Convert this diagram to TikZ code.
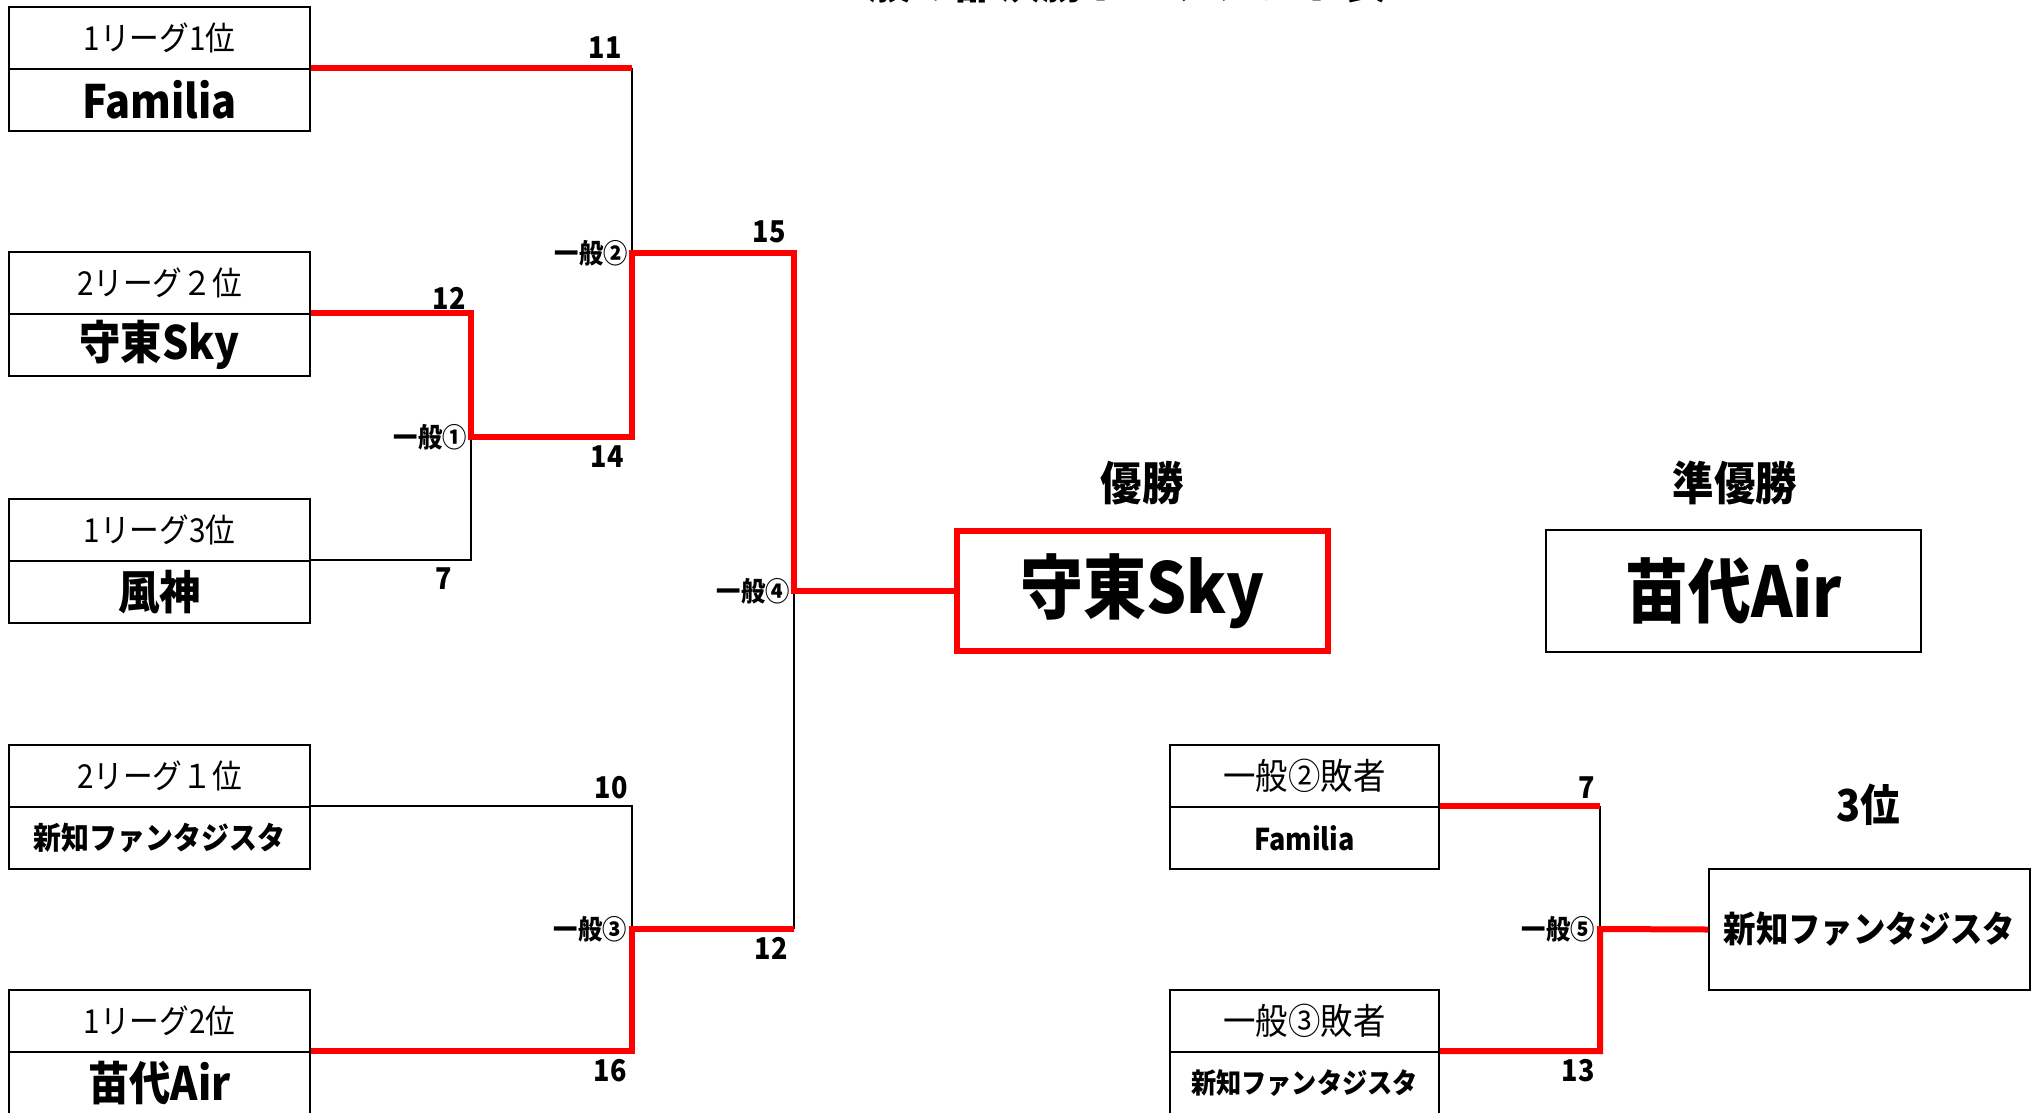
\documentclass[tikz,border=0pt]{standalone}
\usepackage{fontspec}
\setmainfont{Noto Sans CJK JP}[FakeStretch=0.9]
\newcommand\myfs[1]{\fontsize{#1}{#1}\selectfont}
\begin{document}
\begin{tikzpicture}[x=1pt,y=-1pt,
  cell/.style={draw, line width=2pt, inner sep=0pt, minimum height=62pt, minimum width=301pt},
  rcell/.style={cell, minimum width=269pt},
  lab/.style={font=\myfs{33}},
  team/.style={font=\myfs{46}\bfseries},
  num/.style={font=\myfs{30}\bfseries, inner sep=0pt},
  jl/.style={font=\myfs{27}\bfseries, inner sep=0pt, anchor=east},
  head/.style={font=\myfs{46}\bfseries, inner sep=0pt},
  redline/.style={draw=red, line width=6pt, line join=miter},
  blkline/.style={draw=black, line width=1.5pt}]
\useasboundingbox (0,0) rectangle (2037,1112);
\clip (0,0) rectangle (2037,1112);

% title (cut off at top)
\node[font=\myfs{48}\bfseries, anchor=base, inner sep=0pt] (title) at (1106,-2) {一般の部決勝トーナメント表};

% left column boxes
\node[cell, lab] (b1t) at (159.5,38) {1リーグ1位};
\node[cell, team] (b1b) at (159.5,100) {Familia};
\node[cell, lab] (b2t) at (159.5,283) {2リーグ２位};
\node[cell, team] (b2b) at (159.5,345) {守東Sky};
\node[cell, lab] (b3t) at (159.5,530) {1リーグ3位};
\node[cell, team] (b3b) at (159.5,592) {風神};
\node[cell, lab] (b4t) at (159.5,776) {2リーグ１位};
\node[cell, font=\myfs{31}\bfseries] (b4b) at (159.5,838) {新知ファンタジスタ};
\node[cell, lab] (b5t) at (159.5,1021) {1リーグ2位};
\node[cell, team] (b5b) at (159.5,1083) {苗代Air};

% right column (3rd place match)
\node[rcell, font=\myfs{36}] (b6t) at (1304.5,776) {一般②敗者};
\node[rcell, font=\myfs{30}\bfseries] (b6b) at (1304.5,838) {Familia};
\node[rcell, font=\myfs{36}] (b7t) at (1304.5,1021) {一般③敗者};
\node[rcell, font=\myfs{28}\bfseries] (b7b) at (1304.5,1083) {新知ファンタジスタ};

% result boxes
\node[draw=red, line width=6pt, minimum width=371pt, minimum height=120pt, inner sep=0pt, font=\myfs{70}\bfseries] (win) at (1142.5,591) {守東Sky};
\node[draw, line width=2pt, minimum width=375pt, minimum height=122pt, inner sep=0pt, font=\myfs{70}\bfseries] (second) at (1733.5,591) {苗代Air};
\node[draw, line width=2pt, minimum width=321pt, minimum height=121pt, inner sep=0pt, font=\myfs{36}\bfseries] (third) at (1869.5,929.5) {新知ファンタジスタ};

\node[head] (h1) at (1142,483) {優勝};
\node[head] (h2) at (1735,483) {準優勝};
\node[head, font=\myfs{44}\bfseries] (h3) at (1868,805) {3位};

% junctions
\coordinate (j1) at (471,437);
\coordinate (j2) at (632,253);
\coordinate (j3) at (632,929);
\coordinate (j4) at (794,591);
\coordinate (j5) at (1600,929);

% black (lost) lines
\draw[blkline] (b1b.north east -| j2) -- (j2);
\draw[blkline] (b3b.north east) -| (j1);
\draw[blkline] (b4b.north east) -| (j3);
\draw[blkline] (j3 -| j4) -- (j4);
\draw[blkline] (b6b.north east -| j5) -- (j5);

% red (won) lines
\draw[redline] (b1b.north east) -- (b1b.north east -| j2);
\draw[redline] (b2b.north east) -| (j1) -- (j1 -| j2) -- (j2) -- (j2 -| j4) -- (j4) -- (win.west);
\draw[redline] (b5b.north east) -| (j3) -- (j3 -| j4);
\draw[redline] (b6b.north east) -- (b6b.north east -| j5);
\draw[redline] (b7b.north east) -| (j5) -- (third.west);

% junction labels
\node[jl] (l1) at ([xshift=-4pt]j1) {一般①};
\node[jl] (l2) at ([xshift=-4pt]j2) {一般②};
\node[jl] (l3) at ([xshift=-5pt]j3) {一般③};
\node[jl] (l4) at ([xshift=-4pt]j4) {一般④};
\node[jl] (l5) at ([xshift=-5pt]j5) {一般⑤};

% scores
\node[num] (s1) at (605,48) {11};
\node[num] (s2) at (449,298) {12};
\node[num] (s3) at (769,232) {15};
\node[num] (s4) at (607,457) {14};
\node[num] (s5) at (444,579) {7};
\node[num] (s6) at (611,788) {10};
\node[num] (s7) at (771,948) {12};
\node[num] (s8) at (610,1071) {16};
\node[num] (s9) at (1587,788) {7};
\node[num] (s10) at (1578,1071) {13};
\end{tikzpicture}
\end{document}
